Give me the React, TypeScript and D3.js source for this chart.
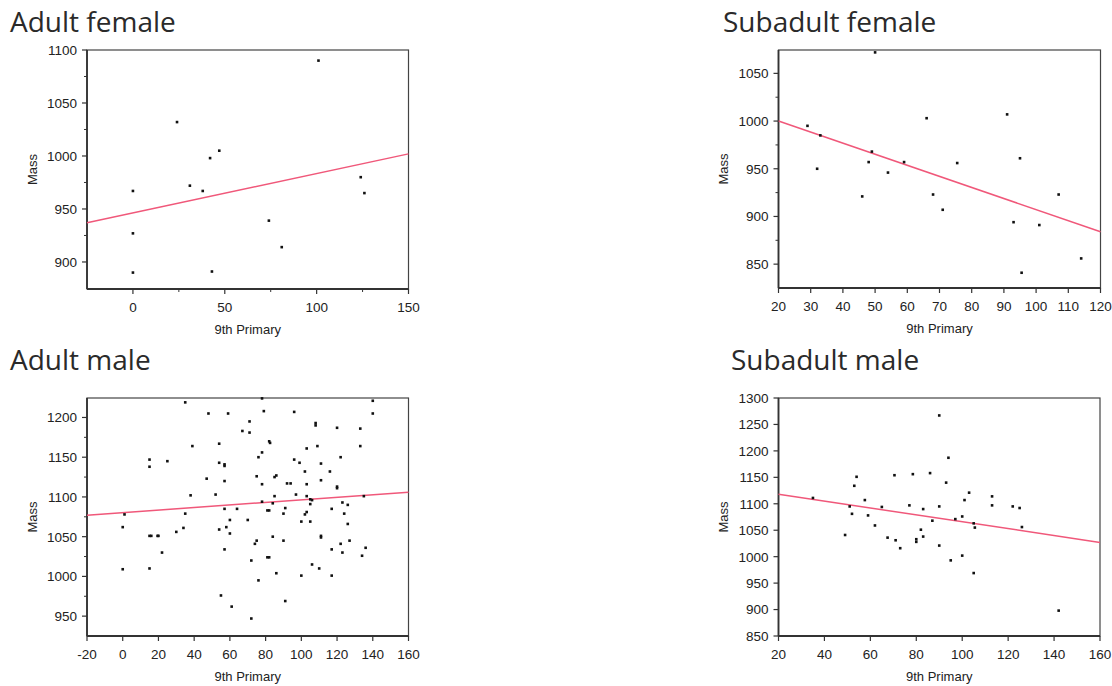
import React from "react";
import * as d3 from "d3";

// ---------- DATA ----------
const adultFemalePoints: [number, number][] = [
  [101, 1090], [24, 1032], [47, 1005], [42, 998], [0, 967], [31, 972], [38, 967],
  [124, 980], [126, 965], [74, 939], [0, 927], [81, 914], [0, 890], [43, 891],
];
const adultFemaleFitX = [-25, 150];
const adultFemaleFitY = [937, 1002];
const adultFemaleXTicks = [0, 50, 100, 150];
const adultFemaleXMinor = [25, 75, 125];
const adultFemaleYTicks = [900, 950, 1000, 1050, 1100];
const adultFemaleYMinor = [925, 975, 1025, 1075];

const subadultFemalePoints: [number, number][] = [
  [50, 1072], [29, 995], [33, 985], [66, 1003], [91, 1007], [49, 968], [48, 957],
  [32, 950], [59, 957], [54, 946], [75.5, 956], [95, 961], [46, 921], [68, 923],
  [71, 907], [107, 923], [93, 894], [101, 891], [114, 856], [95.5, 841],
];
const subadultFemaleFitX = [20, 120];
const subadultFemaleFitY = [1000, 884];
const subadultFemaleXTicks = [20, 30, 40, 50, 60, 70, 80, 90, 100, 110, 120];
const subadultFemaleXMinor: number[] = [];
const subadultFemaleYTicks = [850, 900, 950, 1000, 1050];
const subadultFemaleYMinor = [875, 925, 975, 1025];

const adultMalePoints: [number, number][] = [
  [35, 1219], [78, 1224], [48, 1205], [59, 1205], [79, 1208], [96, 1207], [140, 1221],
  [140, 1205], [71, 1195], [108, 1193], [108, 1190], [120, 1187], [133, 1186], [67, 1183],
  [71, 1181], [82, 1170], [82.5, 1168], [39, 1164], [54, 1167], [109, 1164], [103, 1161],
  [133, 1164], [78, 1156], [76, 1150], [122, 1150], [15, 1147], [15, 1138], [25, 1145],
  [54, 1143], [57, 1141], [57, 1139], [96, 1147], [99, 1143], [111, 1142], [116, 1132],
  [102, 1132], [47, 1123], [75, 1126], [85, 1125], [86, 1127], [57, 1120], [111, 1121],
  [78, 1116], [92, 1117], [94, 1117], [103, 1116], [120, 1113], [120, 1111], [52, 1103],
  [38, 1102], [97, 1103], [103, 1101], [135, 1101], [85, 1101], [105, 1097], [106, 1096],
  [78, 1094], [57, 1085], [64, 1085], [84, 1092], [105, 1091], [123, 1093], [126, 1090],
  [91, 1086], [81, 1083], [82, 1083], [117, 1085], [103, 1081], [102, 1078], [124, 1079],
  [35, 1079], [1, 1078], [90, 1079], [60, 1071], [70, 1071], [100, 1069], [105, 1069],
  [126, 1066], [0, 1062], [58, 1062], [34, 1061], [54, 1059], [30, 1056], [60, 1054],
  [15, 1051], [16, 1051], [19.5, 1051], [20, 1051], [84, 1050], [111, 1051], [111, 1049],
  [75, 1045], [90, 1045], [127, 1045], [74, 1041], [122, 1041], [22, 1030], [57, 1034],
  [117, 1034], [123, 1030], [136, 1036], [134, 1026], [81, 1024], [82, 1024], [72, 1020],
  [106, 1015], [110, 1010], [0, 1009], [15, 1010], [86, 1004], [100, 1001], [117, 1001],
  [76, 995], [55, 976], [61, 962], [91, 969], [72, 947],
];
const adultMaleFitX = [-20, 160];
const adultMaleFitY = [1077, 1106];
const adultMaleXTicks = [-20, 0, 20, 40, 60, 80, 100, 120, 140, 160];
const adultMaleXMinor: number[] = [];
const adultMaleYTicks = [950, 1000, 1050, 1100, 1150, 1200];
const adultMaleYMinor = [975, 1025, 1075, 1125, 1175];

const subadultMalePoints: [number, number][] = [
  [90, 1267], [94, 1187], [54, 1151], [53, 1134], [70.5, 1154], [78.5, 1156], [86, 1158],
  [93, 1140], [35, 1111], [57.6, 1107], [103, 1121], [101, 1107], [113, 1114], [113, 1097],
  [122, 1095], [125, 1092], [51, 1095], [52, 1081], [65, 1094], [77, 1097], [90, 1095],
  [83, 1090], [59, 1078], [100, 1076], [87, 1068], [97, 1071], [62, 1059], [105, 1063],
  [105.5, 1055], [126, 1056], [82, 1051], [49, 1041], [83, 1038], [67.5, 1036], [71, 1031],
  [80, 1033], [80, 1028], [73, 1016], [90, 1021], [100, 1002], [95, 993], [105, 969],
  [142, 898],
];
const subadultMaleFitX = [20, 160];
const subadultMaleFitY = [1118, 1027];
const subadultMaleXTicks = [20, 40, 60, 80, 100, 120, 140, 160];
const subadultMaleXMinor: number[] = [];
const subadultMaleYTicks = [850, 900, 950, 1000, 1050, 1100, 1150, 1200, 1250, 1300];
const subadultMaleYMinor: number[] = [];

// ---------- LAYOUT ----------
type PanelCfg = {
  title: string;
  titleX: number;
  titleY: number;
  left: number;
  right: number;
  top: number;
  bottom: number;
  xDomain: [number, number];
  yDomain: [number, number];
  points: [number, number][];
  fitX: number[];
  fitY: number[];
  xTicks: number[];
  xMinor: number[];
  yTicks: number[];
  yMinor: number[];
  massX: number;
};

const panels: PanelCfg[] = [
  {
    title: "Adult female", titleX: 10, titleY: 32,
    left: 87, right: 408.5, top: 50, bottom: 289,
    xDomain: [-25, 150], yDomain: [874.5, 1100],
    points: adultFemalePoints, fitX: adultFemaleFitX, fitY: adultFemaleFitY,
    xTicks: adultFemaleXTicks, xMinor: adultFemaleXMinor,
    yTicks: adultFemaleYTicks, yMinor: adultFemaleYMinor, massX: 37,
  },
  {
    title: "Subadult female", titleX: 723, titleY: 32,
    left: 778.5, right: 1100.5, top: 50, bottom: 288,
    xDomain: [20, 120], yDomain: [825, 1074.5],
    points: subadultFemalePoints, fitX: subadultFemaleFitX, fitY: subadultFemaleFitY,
    xTicks: subadultFemaleXTicks, xMinor: subadultFemaleXMinor,
    yTicks: subadultFemaleYTicks, yMinor: subadultFemaleYMinor, massX: 728,
  },
  {
    title: "Adult male", titleX: 10, titleY: 370,
    left: 87, right: 408.5, top: 398, bottom: 636,
    xDomain: [-20, 160], yDomain: [925, 1224.5],
    points: adultMalePoints, fitX: adultMaleFitX, fitY: adultMaleFitY,
    xTicks: adultMaleXTicks, xMinor: adultMaleXMinor,
    yTicks: adultMaleYTicks, yMinor: adultMaleYMinor, massX: 37,
  },
  {
    title: "Subadult male", titleX: 731, titleY: 370,
    left: 778.5, right: 1100, top: 398, bottom: 636,
    xDomain: [20, 160], yDomain: [850, 1300],
    points: subadultMalePoints, fitX: subadultMaleFitX, fitY: subadultMaleFitY,
    xTicks: subadultMaleXTicks, xMinor: subadultMaleXMinor,
    yTicks: subadultMaleYTicks, yMinor: subadultMaleYMinor, massX: 728,
  },
];

const tickFont = "'Liberation Sans', Arial, sans-serif";
const titleFont = "'Open Sans', 'Noto Sans', sans-serif";

function Panel({ cfg }: { cfg: PanelCfg }) {
  const x = d3.scaleLinear().domain(cfg.xDomain).range([cfg.left, cfg.right]);
  const y = d3.scaleLinear().domain(cfg.yDomain).range([cfg.bottom, cfg.top]);
  const fitData: [number, number][] = cfg.fitX.map((v, i) => [v, cfg.fitY[i]]);
  const line = d3
    .line<[number, number]>()
    .x((d) => x(d[0]))
    .y((d) => y(d[1]));
  const midX = (cfg.left + cfg.right) / 2;
  const midY = (cfg.top + cfg.bottom) / 2;
  return (
    <g>
      <text
        x={cfg.titleX}
        y={cfg.titleY}
        fontFamily={titleFont}
        fontSize={28}
        fill="#2a2a2a"
      >
        {cfg.title}
      </text>
      <rect
        x={cfg.left}
        y={cfg.top}
        width={cfg.right - cfg.left}
        height={cfg.bottom - cfg.top}
        fill="white"
        stroke="#444"
        strokeWidth={1.2}
      />
      <line x1={cfg.left} x2={cfg.left} y1={cfg.top} y2={cfg.bottom} stroke="#333" strokeWidth={1.8} />
      <line x1={cfg.left} x2={cfg.right} y1={cfg.bottom} y2={cfg.bottom} stroke="#333" strokeWidth={1.8} />
      {/* regression line */}
      <path d={line(fitData) || ""} fill="none" stroke="#f0587a" strokeWidth={1.5} />
      {/* points */}
      {cfg.points.map((p, i) => (
        <rect
          key={i}
          x={x(p[0]) - 1.3}
          y={y(p[1]) - 1.3}
          width={2.6}
          height={2.6}
          fill="#111"
        />
      ))}
      {/* y ticks */}
      {cfg.yTicks.map((t) => (
        <g key={"y" + t}>
          <line x1={cfg.left - 5} x2={cfg.left} y1={y(t)} y2={y(t)} stroke="#333" strokeWidth={1.2} />
          <text
            x={cfg.left - 10}
            y={y(t)}
            dy="0.36em"
            textAnchor="end"
            fontFamily={tickFont}
            fontSize={13.5}
            fill="#222"
          >
            {t}
          </text>
        </g>
      ))}
      {cfg.yMinor.map((t) => (
        <line key={"ym" + t} x1={cfg.left - 3} x2={cfg.left} y1={y(t)} y2={y(t)} stroke="#333" strokeWidth={1} />
      ))}
      {/* x ticks */}
      {cfg.xTicks.map((t) => (
        <g key={"x" + t}>
          <line x1={x(t)} x2={x(t)} y1={cfg.bottom} y2={cfg.bottom + 5} stroke="#333" strokeWidth={1.2} />
          <text
            x={x(t)}
            y={cfg.bottom + 23}
            textAnchor="middle"
            fontFamily={tickFont}
            fontSize={13.5}
            fill="#222"
          >
            {t}
          </text>
        </g>
      ))}
      {cfg.xMinor.map((t) => (
        <line key={"xm" + t} x1={x(t)} x2={x(t)} y1={cfg.bottom} y2={cfg.bottom + 3} stroke="#333" strokeWidth={1} />
      ))}
      {/* axis titles */}
      <text
        x={midX}
        y={cfg.bottom + 45}
        textAnchor="middle"
        fontFamily={tickFont}
        fontSize={13}
        fill="#222"
      >
        9th Primary
      </text>
      <text
        transform={`translate(${cfg.massX},${midY}) rotate(-90)`}
        textAnchor="middle"
        fontFamily={tickFont}
        fontSize={13}
        fill="#222"
      >
        Mass
      </text>
    </g>
  );
}

export default function App() {
  return (
    <div style={{ position: "absolute", left: 0, top: 0 }}>
      <svg width={1112} height={686} style={{ display: "block", background: "white" }}>
        <rect x={0} y={0} width={1112} height={686} fill="white" />
        {panels.map((p) => (
          <Panel key={p.title} cfg={p} />
        ))}
      </svg>
    </div>
  );
}
